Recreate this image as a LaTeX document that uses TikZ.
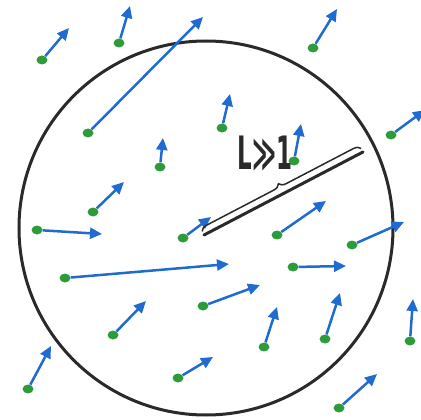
\documentclass[tikz,border=0pt]{standalone}
\usepackage{graphicx}
\usepackage{fontspec}
\newfontfamily\labelfont{DejaVu Sans}
\usetikzlibrary{arrows.meta,decorations.pathreplacing,shapes.geometric}
\begin{document}
\begin{tikzpicture}[x=1pt, y=-1pt]
    \definecolor{dotColour}{HTML}{2E9B3A}
    \definecolor{vecColour}{HTML}{1F6BD0}
    \definecolor{rimColour}{HTML}{2A2A2A}
    \tikzset{
        spin/.style={ellipse, fill=dotColour, inner sep=0pt, minimum width=11pt, minimum height=9pt},
        vec/.style={vecColour, line width=2.5pt, -{Triangle[length=12pt,width=11pt]}}
    }
    \useasboundingbox (0,0) rectangle (421,420);

    % Draw boundary circle
    \draw[rimColour, line width=3pt] (206,228) circle (187pt);

    % Spins: dot at (x,y), arrow tip at (tx,ty)
    \foreach \i/\x/\y/\tx/\ty in {1/42/60/69/28, 2/119/43/130/6, 3/88/133/203/17,
        4/313/48/337/9, 5/222/128/230/94, 6/391/135/425/110, 7/160/167/163/138,
        8/294/161/301/124, 9/93/212/124/182, 10/37/230/102/234, 11/183/238/211/217,
        12/277/235/326/201, 13/352/245/404/222, 14/65/278/229/264, 15/293/267/346/266,
        16/203/306/260/285, 17/113/335/146/301, 18/264/347/277/307, 19/325/339/340/293,
        20/410/341/413/299, 21/28/389/51/346, 22/178/378/213/357, 23/339/408/377/374}
    {
        \node[spin] (d\i) at (\x,\y) {};
        \coordinate (t\i) at (\tx,\ty);
        \draw[vec] (d\i) -- (t\i);
    }

    % Length scale with brace
    \coordinate (O) at (204,235);
    \coordinate (E) at (363,152);
    \draw[rimColour, line width=3pt, line cap=round] (O) -- (E);
    \draw[rimColour, line width=1.5pt, decorate, decoration={brace, amplitude=7pt, raise=4pt}] (O) -- (E);
    \node[rimColour, inner sep=0pt] (len) at (265,154) {\scalebox{0.5}[1]{\labelfont\bfseries\fontsize{46}{46}\selectfont L≫1}};

\end{tikzpicture}
\end{document}
